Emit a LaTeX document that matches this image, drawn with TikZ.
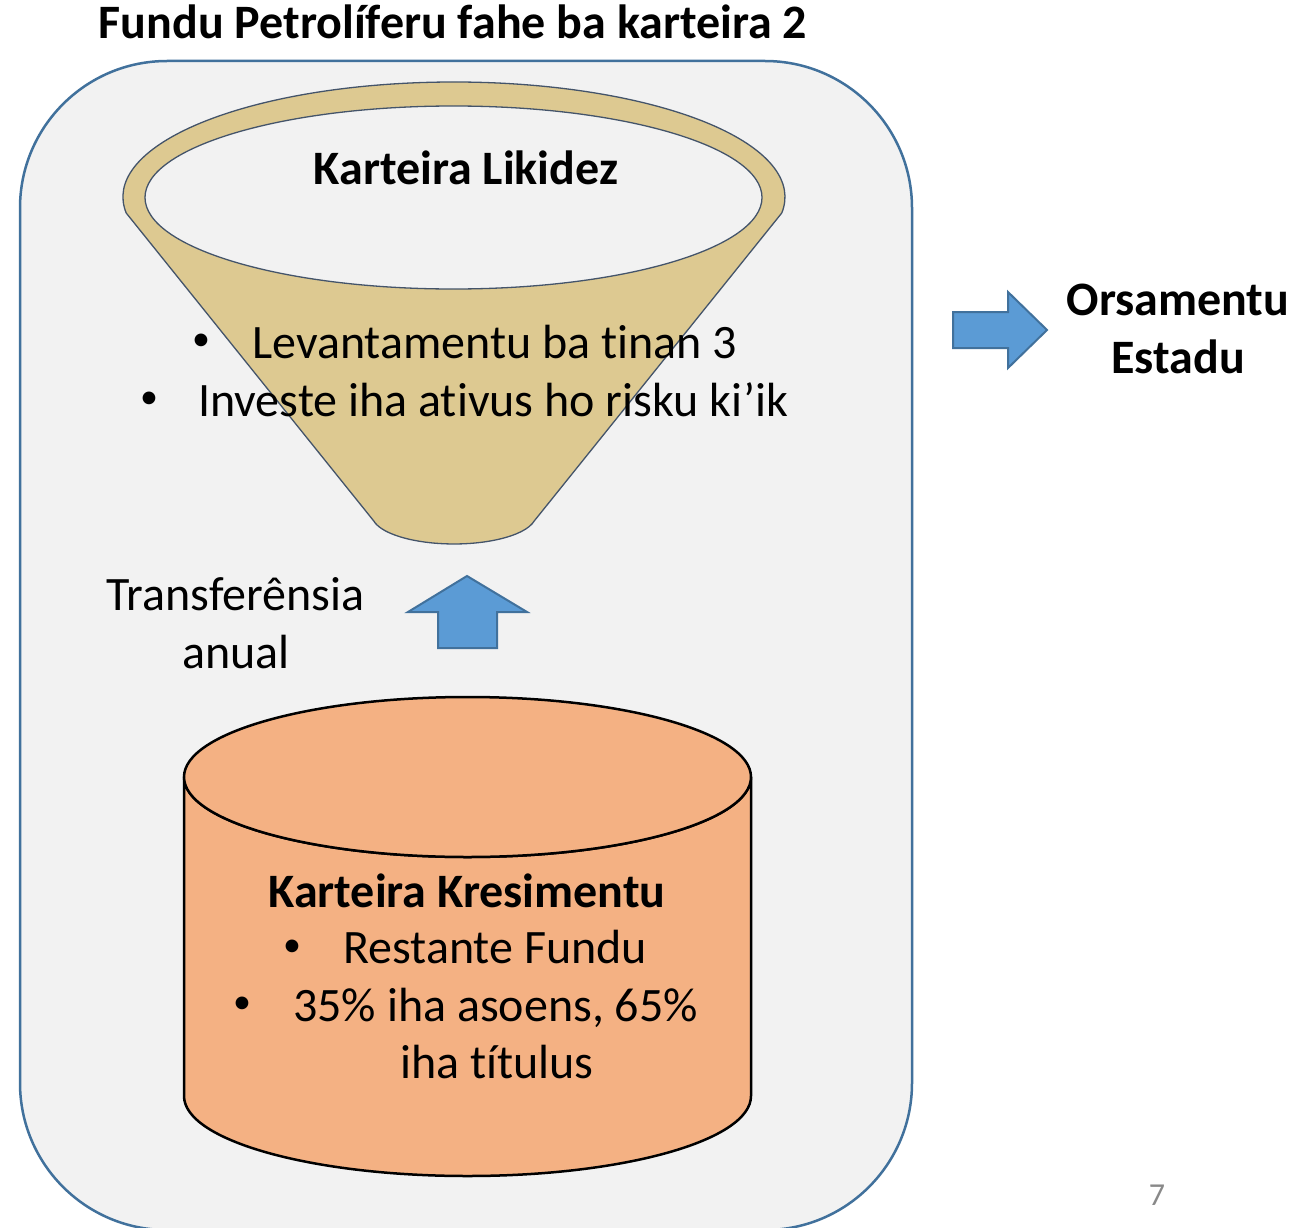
\documentclass[tikz,border=0pt]{standalone}
\usepackage{fontspec}
\setmainfont{Carlito}[Ligatures={NoCommon,NoContextual}]
\definecolor{boxfill}{HTML}{F2F2F2}
\definecolor{boxline}{HTML}{41719C}
\definecolor{funnelfill}{HTML}{DDC991}
\definecolor{funnelline}{HTML}{44546A}
\definecolor{cylfill}{HTML}{F4B183}
\definecolor{arrowfill}{HTML}{5B9BD5}
\definecolor{pagegray}{HTML}{898989}
\tikzset{
  txt/.style={inner sep=0pt, anchor=base, font=\fontsize{48}{56}\selectfont},
  txtl/.style={txt, anchor=base west},
  btxt/.style={txt, font=\fontsize{48}{56}\selectfont\bfseries},
  bullet/.style={inner sep=0pt, anchor=center, font=\fontsize{36}{40}\selectfont},
  blockarrow/.style={fill=arrowfill, draw=boxline, line width=2pt, line join=miter},
}
\begin{document}
\begin{tikzpicture}[x=1pt,y=-1pt]
\useasboundingbox (0,0) rectangle (1309,1228);
\clip (0,0) rectangle (1309,1228);
\fill[white] (0,0) rectangle (1309,1228);
% outer rounded box
\draw[fill=boxfill, draw=boxline, line width=2.5pt, rounded corners=147pt] (20,61) rectangle (912,1230);
% title
\node[btxt] (title) at (453,39) {Fundu Petrolíferu fahe ba karteira 2};
% funnel
\draw[fill=funnelfill, draw=funnelline, line width=1.3pt, line join=round]
  (126.2,213) arc[start angle=172, end angle=368, x radius=331, y radius=115]
  -- (534.2,521) arc[start angle=12, end angle=168, x radius=82, y radius=29]
  -- cycle;
\draw[fill=boxfill, draw=funnelline, line width=1.3pt] (453.5,197.5) ellipse[x radius=308.5, y radius=91.5];
\node[btxt] (liq) at (466,184) {Karteira Likidez};
\node[bullet] (b1) at (201,342) {•};
\node[txtl] (l1) at (252,358) {Levantamentu ba t\kern0pt inan 3};
\node[bullet] (b2) at (149,400) {•};
\node[txtl] (l2) at (198,416) {Investe iha at\kern0pt ivus ho risku ki’ik};
% transfer label and up arrow
\node[txt] (tr1) at (235.5,610) {Transferênsia};
\node[txt] (tr2) at (236,668) {anual};
\draw[blockarrow] (467,576) -- (527,612) -- (497,612) -- (497,648) -- (438,648) -- (438,612) -- (408,612) -- cycle;
% right arrow and budget
\draw[blockarrow] (953,312) -- (1008,312) -- (1008,292) -- (1047,330) -- (1008,368) -- (1008,348) -- (953,348) -- cycle;
\node[btxt] (orc1) at (1178,315) {Orsamentu};
\node[btxt] (orc2) at (1178,373) {Estadu};
% cylinder
\draw[fill=cylfill, draw=black, line width=2.5pt, line join=round]
  (184,777) -- (184,1096) arc[start angle=180, end angle=0, x radius=283.5, y radius=80]
  -- (751,777) arc[start angle=0, end angle=180, x radius=283.5, y radius=80] -- cycle;
\draw[fill=cylfill, draw=black, line width=2.5pt] (467.5,777) ellipse[x radius=283.5, y radius=80];
\node[btxt] (kres) at (467,907) {Karteira Kresimentu};
\node[bullet] (b3) at (292,948) {•};
\node[txtl] (k1) at (343,963) {Restante Fundu};
\node[bullet] (b4) at (242,1005) {•};
\node[txtl] (k2) at (293,1021) {35\% iha asoens, 65\%};
\node[txtl] (k3) at (400,1078) {iha t\kern0pt ítulus};
% page number
\node[inner sep=0pt, anchor=base, text=pagegray, font=\fontsize{32}{38}\selectfont] (pg) at (1157,1205) {7};
\end{tikzpicture}
\end{document}
